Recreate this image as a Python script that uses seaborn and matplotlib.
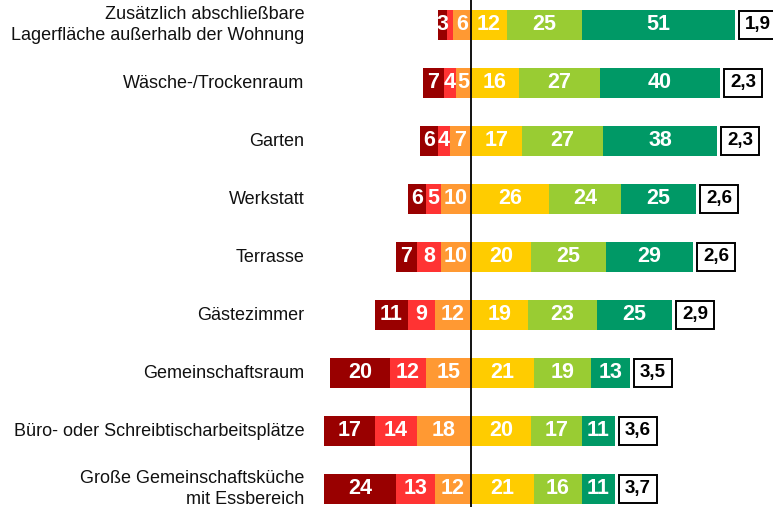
import numpy as np
import pandas as pd
import seaborn as sns
import matplotlib.pyplot as plt

# data (percent)
categories = [
    "Zusätzlich abschließbare\nLagerfläche außerhalb der Wohnung",
    "Wäsche-/Trockenraum",
    "Garten",
    "Werkstatt",
    "Terrasse",
    "Gästezimmer",
    "Gemeinschaftsraum",
    "Büro- oder Schreibtischarbeitsplätze",
    "Große Gemeinschaftsküche\nmit Essbereich",
]
neg3 = [3, 7, 6, 6, 7, 11, 20, 17, 24]     # dark red, outermost
neg2 = [2, 4, 4, 5, 8, 9, 12, 14, 13]      # red
neg1 = [6, 5, 7, 10, 10, 12, 15, 18, 12]   # orange, next to center
pos1 = [12, 16, 17, 26, 20, 19, 21, 20, 21]  # yellow
pos2 = [25, 27, 27, 24, 25, 23, 19, 17, 16]  # light green
pos3 = [51, 40, 38, 25, 29, 25, 13, 11, 11]  # green
means = ["1,9", "2,3", "2,3", "2,6", "2,6", "2,9", "3,5", "3,6", "3,7"]

colors = ["#990000", "#FF3333", "#FF9933", "#FFCC00", "#99CC33", "#009966"]

df = pd.DataFrame({"cat": categories, "n3": neg3, "n2": neg2, "n1": neg1,
                   "p1": pos1, "p2": pos2, "p3": pos3})

fig = plt.figure(figsize=(7.73, 5.07), dpi=100)
ax = fig.add_axes([0, 0, 1, 1])
sns.set_style("white")
plt.rcParams['font.family'] = ['Liberation Sans', 'DejaVu Sans']

# cumulative extents, longest drawn first so shorter ones overlay
stack = [
    (-(df.n3 + df.n2 + df.n1), colors[0]),
    (-(df.n2 + df.n1), colors[1]),
    (-df.n1, colors[2]),
    (df.p1 + df.p2 + df.p3, colors[5]),
    (df.p1 + df.p2, colors[4]),
    (df.p1, colors[3]),
]
for vals, c in stack:
    sns.barplot(x=vals, y=df.cat, orient="h", color=c, saturation=1,
                width=0.52, linewidth=0, ax=ax)

# segment labels
for i in range(len(df)):
    segs = [
        (-(neg3[i] + neg2[i] + neg1[i]), neg3[i]),
        (-(neg2[i] + neg1[i]), neg2[i]),
        (-neg1[i], neg1[i]),
        (0, pos1[i]),
        (pos1[i], pos2[i]),
        (pos1[i] + pos2[i], pos3[i]),
    ]
    for start, v in segs:
        if v >= 3:
            ax.text(start + v / 2, i, str(v), ha="center", va="center",
                    color="white", fontsize=15.5, fontweight="bold")
    right = pos1[i] + pos2[i] + pos3[i]
    ax.text(right + 3.3, i, means[i], ha="left", va="center", fontsize=13.5,
            fontweight="bold", color="black",
            bbox=dict(boxstyle="square,pad=0.3", fc="white", ec="black", lw=1.4))
    ax.text(-55.5, i, categories[i], ha="right", va="center", fontsize=13,
            multialignment="right", linespacing=1.25, color="#111111")

ax.axvline(0, color="black", lw=1.3, zorder=5)

# 3 px per percent, center line at x=471 px
ax.set_xlim(-471 / 3, (773 - 471) / 3)
ax.set_ylim((507 - 25) / 58, -25 / 58)
ax.axis("off")

fig.savefig("out.png", dpi=100)
